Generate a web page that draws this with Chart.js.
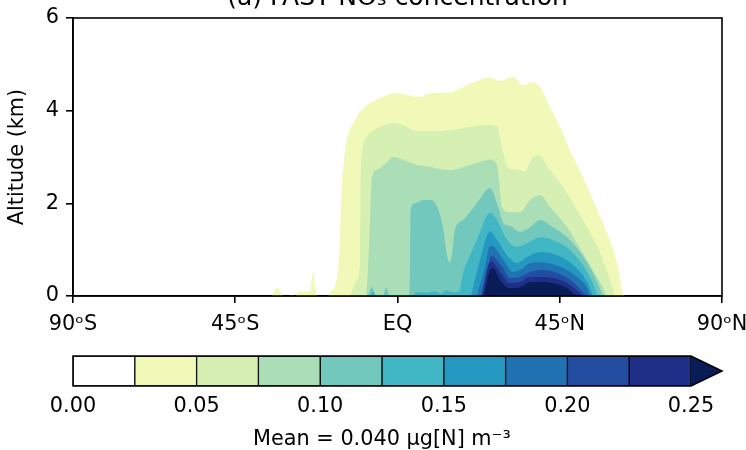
<!DOCTYPE html>
<html><head><meta charset="utf-8">
<script src="https://cdn.jsdelivr.net/npm/chart.js@4.4.0/dist/chart.umd.min.js"></script>
<style>
html,body{margin:0;padding:0;background:#fff;width:746px;height:450px;overflow:hidden;position:relative;}
#c1{position:absolute;left:0;top:0;}
#c2{position:absolute;left:0;top:340px;}
</style></head><body>
<canvas id="c1" width="746" height="345"></canvas>
<canvas id="c2" width="746" height="112"></canvas>
<script>
const FONT = 'DejaVu Sans';
const titleText = '(a) FAST NO\u2083 concentration';
const yTitle = 'Altitude (km)';
const cbTitle = 'Mean = 0.040 \u03bcg[N] m\u207b\u00b3';

// axes ticks
const latTicks = [-90, -45, 0, 45, 90];
const latTickLabels = ['90\u1d52S', '45\u1d52S', 'EQ', '45\u1d52N', '90\u1d52N'];
const altTicks = [0, 2, 4, 6];

// contour levels (µg[N] m-3) and colorbar ticks
const levels = [0, 0.025, 0.05, 0.075, 0.1, 0.125, 0.15, 0.175, 0.2, 0.225, 0.25];
const cbTicks = [0, 0.05, 0.1, 0.15, 0.2, 0.25];
const binColors = ['#ffffff', '#f1f9b9', '#d6efb3', '#aadeb7', '#73c8bd', '#41b6c4', '#2498c1', '#2072b2', '#234da0', '#1f2f88'];
const overColor = '#081d58';

// contour boundaries: [latitude (deg), altitude (km)] below which the concentration exceeds each level
const c025 = [[-34.8,0],[-33.4,0.17],[-32.0,0.02],[-31.6,0],[-29.8,0],[-29.5,0.06],[-29.0,0],[-28.2,0],[-27.6,0.09],[-24.3,0.11],[-23.4,0.52],[-22.6,0.09],[-22.1,0],
  [-19.3,0],[-18.7,0.06],[-16.5,0.56],[-16.0,1.21],[-15.7,2.0],[-14.6,3.09],[-11.8,3.8],[-9.0,4.08],[-4.0,4.30],[-0.1,4.38],[2.6,4.34],[6.2,4.30],[9.0,4.38],[14.6,4.40],[20.1,4.58],[25.7,4.71],[28.4,4.64],[32.0,4.73],[34.8,4.55],[37.3,4.62],[39.5,4.51],[42.3,4.08],[45.1,3.65],[47.8,3.15],[51.4,2.57],[54.2,2.07],[58.1,1.36],[60.9,0.71],[62.5,0.06],[63.1,0]];
const c050 = [[-13.2,0],[-11.2,0.35],[-10.4,0.78],[-10.3,2.07],[-9.8,3.09],[-8.5,3.43],[-4.9,3.65],[-1.3,3.73],[1.5,3.69],[5.4,3.56],[9.0,3.56],[14.6,3.58],[20.1,3.65],[25.7,3.69],[27.6,3.65],[29.3,3.09],[30.6,2.78],[34.0,2.72],[35.1,2.68],[37.6,3.0],[39.0,3.04],[42.3,2.72],[47.0,2.22],[51.4,1.64],[56.2,0.93],[58.9,0.35],[60.3,0]];
const c075 = [[-8.7,0],[-8.2,0.56],[-7.6,1.64],[-7.1,2.57],[-5.7,2.72],[-2.9,2.89],[-1.3,3.0],[1.5,2.94],[5.4,2.83],[7.1,2.81],[14.6,2.72],[20.1,2.83],[25.7,2.94],[27.6,2.83],[29.0,1.92],[31.2,1.81],[34.0,1.81],[36.8,2.07],[39.5,2.18],[42.3,1.92],[47.0,1.49],[51.4,0.93],[55.3,0.41],[57.6,0.06],[57.8,0]];
const c100 = [[-8.2,0],[-7.1,0.19],[-6.0,0],[-4.0,0],[-3.2,0.19],[-2.1,0],
  [3.2,0],[3.5,0.78],[3.6,1.86],[4.9,2.0],[7.1,2.07],[9.0,2.07],[11.0,1.92],[12.6,1.49],[13.8,0.85],[14.4,0.72],[15.0,0.85],[15.9,1.42],[18.2,1.64],[22.0,2.0],[25.7,2.33],[27.9,1.92],[29.3,1.58],[31.2,1.51],[34.0,1.38],[36.8,1.49],[39.5,1.64],[43.1,1.49],[48.7,1.14],[54.2,0.5],[57.0,0]];
const c125 = [[-7.6,0],[-6.8,0.1],[-6.0,0],
  [4.5,0],[5.0,0.08],[8.0,0.07],[10.5,0.1],[12.0,0.05],[13.5,0.12],[15.5,0.08],[17.1,0.1],[18.2,0.5],[20.1,0.88],[22.0,1.21],[25.7,1.79],[27.6,1.64],[29.3,1.36],[30.4,1.21],[33.1,1.06],[35.9,1.14],[39.5,1.27],[44.2,1.17],[48.7,0.93],[53.4,0.41],[55.6,0]];
const c150 = [[20.4,0],[22.9,0.78],[25.7,1.4],[27.6,1.21],[30.4,0.88],[33.1,0.71],[35.9,0.84],[39.5,0.95],[44.2,0.88],[48.7,0.67],[52.6,0.3],[54.2,0]];
const c175 = [[22.0,0],[24.3,0.63],[25.7,1.08],[26.2,1.08],[29.3,0.78],[32.0,0.52],[34.0,0.56],[36.8,0.71],[39.5,0.73],[45.1,0.63],[49.8,0.41],[52.6,0.17],[53.4,0]];
const c200 = [[23.2,0],[25.1,0.56],[26.0,0.87],[29.0,0.63],[31.2,0.39],[34.0,0.41],[36.8,0.52],[40.4,0.56],[45.1,0.47],[48.7,0.3],[51.4,0.09],[52.6,0]];
const c225 = [[23.4,0],[25.1,0.65],[26.0,0.75],[28.4,0.52],[31.2,0.28],[34.0,0.3],[36.8,0.41],[39.5,0.41],[45.1,0.35],[48.7,0.19],[50.6,0.06],[51.4,0]];
const c250 = [[23.9,0],[25.7,0.56],[26.6,0.6],[28.4,0.35],[31.2,0.17],[34.0,0.19],[36.8,0.3],[40.4,0.3],[45.1,0.24],[47.0,0.17],[48.7,0.06],[49.8,0]];

const contourSets = [c025, c050, c075, c100, c125, c150, c175, c200, c225, c250];
const contourColors = binColors.slice(1).concat([overColor]);

const tickFont = {family: FONT, size: 20.8};
const black = '#000';

const frameAndTitle = {
  id: 'frameAndTitle',
  afterDraw(chart) {
    const {ctx, chartArea: a} = chart;
    ctx.save();
    ctx.strokeStyle = black;
    ctx.lineWidth = 1.6;
    ctx.strokeRect(a.left, a.top, a.right - a.left, a.bottom - a.top);
    ctx.fillStyle = black;
    ctx.font = '25px "' + FONT + '"';
    ctx.textAlign = 'center';
    ctx.textBaseline = 'alphabetic';
    ctx.fillText(titleText, (a.left + a.right) / 2, 5);
    ctx.restore();
  }
};

new Chart(document.getElementById('c1'), {
  type: 'line',
  data: {
    datasets: contourSets.map((arr, k) => ({
      data: arr.map(([x, y]) => ({x, y})),
      fill: 'origin',
      backgroundColor: contourColors[k],
      borderColor: 'rgba(0,0,0,0)',
      borderWidth: 0,
      pointRadius: 0,
      cubicInterpolationMode: 'monotone',
      order: contourSets.length - k
    }))
  },
  options: {
    responsive: false,
    animation: false,
    layout: {padding: {top: 18, right: 24, left: 0, bottom: 0}},
    plugins: {legend: {display: false}, tooltip: {enabled: false}, title: {display: false}},
    scales: {
      x: {
        type: 'linear', min: -90, max: 90,
        afterBuildTicks: s => { s.ticks = latTicks.map(v => ({value: v})); },
        ticks: {callback: (v, i) => latTickLabels[i], font: tickFont, color: black, padding: 9, maxRotation: 0, autoSkip: false},
        grid: {display: true, drawOnChartArea: false, drawTicks: true, tickLength: 7, tickWidth: 1.6, tickColor: black, color: black, lineWidth: 1.6},
        border: {display: true, color: black, width: 1.6},
        afterFit: s => { s.height = 49; s.paddingLeft = 0; s.paddingRight = 0; }
      },
      y: {
        type: 'linear', min: 0, max: 6,
        afterBuildTicks: s => { s.ticks = altTicks.map(v => ({value: v})); },
        ticks: {callback: v => String(v), font: tickFont, color: black, padding: 7},
        grid: {display: true, drawOnChartArea: false, drawTicks: true, tickLength: 7, tickWidth: 1.6, tickColor: black, color: black, lineWidth: 1.6},
        border: {display: true, color: black, width: 1.6},
        title: {display: true, text: yTitle, font: tickFont, color: black, padding: {top: 5, bottom: 0}},
        afterFit: s => { s.width = 73; s.paddingTop = 0; s.paddingBottom = 0; }
      }
    }
  },
  plugins: [frameAndTitle]
});

const extendFrac = 0.05;
const cbOutline = {
  id: 'cbOutline',
  afterDraw(chart) {
    const {ctx, chartArea: a} = chart;
    const xs = chart.scales.x;
    const x0 = xs.getPixelForValue(levels[0]);
    const x1 = xs.getPixelForValue(levels[levels.length - 1]);
    const tip = x1 + extendFrac * (x1 - x0);
    const mid = (a.top + a.bottom) / 2;
    ctx.save();
    ctx.fillStyle = overColor;
    ctx.beginPath();
    ctx.moveTo(x1, a.top); ctx.lineTo(tip, mid); ctx.lineTo(x1, a.bottom); ctx.closePath();
    ctx.fill();
    ctx.strokeStyle = black;
    ctx.lineWidth = 1.6;
    ctx.beginPath();
    ctx.moveTo(x0, a.top); ctx.lineTo(x1, a.top); ctx.lineTo(tip, mid); ctx.lineTo(x1, a.bottom); ctx.lineTo(x0, a.bottom); ctx.closePath();
    ctx.stroke();
    ctx.restore();
  }
};

new Chart(document.getElementById('c2'), {
  type: 'bar',
  data: {
    labels: [''],
    datasets: binColors.map((c, i) => ({
      data: [[levels[i], levels[i + 1]]],
      backgroundColor: c,
      borderColor: black,
      borderWidth: 1,
      borderSkipped: false,
      barPercentage: 1,
      categoryPercentage: 1,
      grouped: false
    }))
  },
  options: {
    indexAxis: 'y',
    responsive: false,
    animation: false,
    layout: {padding: {left: 73, right: 55, top: 16, bottom: 0}},
    plugins: {legend: {display: false}, tooltip: {enabled: false}},
    scales: {
      x: {
        type: 'linear', min: levels[0], max: levels[levels.length - 1],
        afterBuildTicks: s => { s.ticks = cbTicks.map(v => ({value: v})); },
        ticks: {callback: (v, i) => cbTicks[i].toFixed(2), font: tickFont, color: black, padding: 8, maxRotation: 0, autoSkip: false},
        grid: {display: false, drawTicks: false},
        border: {display: false},
        title: {display: true, text: cbTitle, font: tickFont, color: black, padding: {top: 0, bottom: 0}},
        afterFit: s => { s.height = 66; s.paddingLeft = 0; s.paddingRight = 0; }
      },
      y: {display: false}
    }
  },
  plugins: [cbOutline]
});
</script>
</body></html>
